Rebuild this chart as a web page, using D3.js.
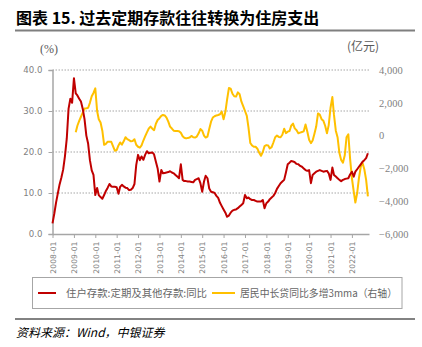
<!DOCTYPE html>
<html><head><meta charset="utf-8">
<script src="https://cdn.jsdelivr.net/npm/d3@7/dist/d3.min.js"></script>
<style>body{margin:0;background:#fff}svg{display:block}</style>
</head><body>
<svg id="c" width="422" height="347"></svg>
<script>
// ---- data ----
const depositStart = "2008-01";
const depositYoY = [
 2.6,5.0,7.6,9.9,12.1,13.8,15.7,19.0,23.3,30.5,
 33.0,32.0,38.0,34.3,33.8,33.0,32.3,30.5,28.0,24.0,
 22.0,18.0,15.5,14.4,9.5,11.2,9.5,9.0,8.6,9.5,
 10.5,11.3,12.2,11.6,11.5,11.5,11.4,9.8,11.5,12.0,
 11.6,11.3,11.2,10.7,10.8,11.2,12.2,16.8,19.3,18.0,
 18.9,18.1,19.3,20.2,19.7,19.8,19.9,19.4,17.6,16.0,
 12.8,15.6,14.8,14.9,15.0,15.1,15.3,15.0,14.8,14.4,
 14.0,13.6,17.0,13.2,12.9,12.9,12.8,12.8,12.7,12.6,
 13.2,13.4,13.6,12.4,10.3,12.8,14.2,13.6,11.1,10.3,
 10.2,10.0,9.3,8.8,7.6,6.8,6.0,5.2,4.2,4.5,
 5.2,5.7,5.9,6.0,6.3,6.7,7.1,7.5,9.5,8.7,
 8.9,8.5,8.3,8.3,8.1,7.9,7.9,7.9,8.3,6.3,
 7.5,7.9,8.5,8.9,9.3,10.0,11.0,11.7,12.4,12.8,
 13.2,15.0,17.0,17.4,17.8,17.7,17.5,17.1,17.0,16.6,
 16.4,16.0,15.6,15.4,15.6,12.4,14.4,14.8,15.2,15.4,
 15.6,15.4,15.2,15.3,15.4,14.8,13.2,16.2,14.4,14.0,
 13.6,13.2,12.9,13.2,13.4,13.5,13.6,14.5,15.2,14.0,
 15.2,15.8,16.4,17.0,17.6,18.0,18.5,19.7
];
const loanStart = "2009-02";
const loanIncrease3mma = [
 200,600,900,1150,1400,1650,1660,1700,2000,2400,
 2600,2880,1500,1000,800,300,-560,-500,-370,-370,
 -380,-650,-920,-880,-600,-420,-550,-350,-100,-220,
 -280,-350,-330,-220,-560,-680,-740,-600,-300,-50,
 200,420,550,420,330,720,950,1060,1200,1260,
 1230,1100,850,550,430,300,280,280,270,170,
 -40,-130,-170,-140,-120,-20,-100,-120,-60,140,
 400,300,0,-120,-60,400,850,1100,1180,1230,
 1260,1300,1460,1000,1450,2200,2900,2860,2550,2400,
 2380,2640,2520,2070,1800,1500,1200,500,-450,-600,
 -680,-680,-800,-1050,-1230,-1000,-640,-580,-600,-780,
 -700,-420,-100,0,-80,-100,50,420,150,240,
 280,600,730,440,330,140,180,220,260,680,
 250,-250,-460,-300,120,550,1350,1280,1000,900,
 600,140,640,1700,2350,1260,300,-100,-1050,-1480,
 -1650,-1200,-100,80,-1400,-2600,-3400,-4080,-3500,-2600,
 -1900,-1650,-2050,-2700,-3700
];
const yearTicks = ["2008-01","2009-01","2010-01","2011-01","2012-01","2013-01","2014-01","2015-01","2016-01","2017-01","2018-01","2019-01","2020-01","2021-01","2022-01"];
const leftTicks = [0,10,20,30,40];
const rightTicks = [-6000,-4000,-2000,0,2000,4000];
const seriesNames = ["住户存款:定期及其他存款:同比","居民中长贷同比多增3mma（右轴）"];
const colors = ["#C00000","#FFC000"];

// ---- chart ----
const svg = d3.select("#c");
const parse = d3.timeParse("%Y-%m");
const monthsFrom = (start, n) => d3.range(n).map(i => d3.timeMonth.offset(parse(start), i));
const redPts = monthsFrom(depositStart, depositYoY.length).map((d,i)=>({d, v:depositYoY[i]}));
const yelPts = monthsFrom(loanStart, loanIncrease3mma.length).map((d,i)=>({d, v:loanIncrease3mma[i]}));

const X0 = 52.5, X1 = 369, Y0 = 234, Y1 = 70;
const x = d3.scaleTime().domain([parse("2008-01"), new Date(2022, 9, 20)]).range([X0, X1]);
const yL = d3.scaleLinear().domain([0, 40]).range([Y0, Y1]);
const yR = d3.scaleLinear().domain([-6000, 4000]).range([Y0, Y1]);

// title
svg.append("text").attr("x", 16).attr("y", 24)
  .attr("font-family", "'Noto Sans CJK SC', sans-serif").attr("font-weight", "bold")
  .attr("font-size", 16).attr("fill", "#000").text("图表 15. 过去定期存款往往转换为住房支出");
svg.append("line").attr("x1", 15).attr("x2", 415).attr("y1", 30.5).attr("y2", 30.5)
  .attr("stroke", "#7f7f7f").attr("stroke-width", 2);

// units
svg.append("text").attr("x", 40).attr("y", 53).attr("font-family", "'Liberation Serif', serif")
  .attr("font-size", 12).attr("fill", "#595959").text("(%)");
svg.append("text").attr("x", 347).attr("y", 51).attr("font-family", "'Noto Sans CJK SC', sans-serif")
  .attr("font-size", 12).attr("fill", "#595959").text("(亿元)");

// grid
svg.append("g").selectAll("line").data(leftTicks.filter(d => d > 0)).join("line")
  .attr("x1", X0).attr("x2", X1).attr("y1", d => yL(d)).attr("y2", d => yL(d))
  .attr("stroke", "#a6a6a6").attr("stroke-width", 1).attr("stroke-dasharray", "1.5,1.5");

// left axis
const gL = svg.append("g").attr("transform", `translate(${X0},0)`)
  .call(d3.axisLeft(yL).tickValues(leftTicks).tickFormat(d3.format(".1f")).tickSize(4).tickPadding(6));
gL.select(".domain").attr("stroke", "#a6a6a6").attr("stroke-width", 1.5);
gL.selectAll(".tick line").attr("stroke", "#a6a6a6");
gL.selectAll("text").attr("font-family", "'DejaVu Sans', sans-serif").attr("font-size", 8.6).attr("fill", "#7f7f7f");

// right axis
const gR = svg.append("g").attr("transform", `translate(${X1},0)`)
  .call(d3.axisRight(yR).tickValues(rightTicks).tickFormat(d3.format(",")).tickSize(0).tickPadding(10));
gR.select(".domain").remove();
gR.selectAll("text").attr("font-family", "'Liberation Serif', serif").attr("font-size", 10.5).attr("fill", "#7f7f7f");

// bottom axis
const gB = svg.append("g").attr("transform", `translate(0,${Y0})`)
  .call(d3.axisBottom(x).tickValues(yearTicks.map(parse)).tickFormat(d3.timeFormat("%Y-%m")).tickSize(4).tickSizeOuter(0));
gB.select(".domain").attr("stroke", "#a6a6a6").attr("stroke-width", 1.5);
gB.selectAll(".tick line").attr("stroke", "#a6a6a6");
gB.selectAll("text").attr("font-family", "'DejaVu Sans', sans-serif").attr("font-size", 7.7).attr("fill", "#7f7f7f")
  .attr("transform", "rotate(-90)").attr("text-anchor", "end").attr("x", -7.5).attr("y", 0).attr("dy", "0.35em");

// lines
const lineL = d3.line().x(p => x(p.d)).y(p => yL(p.v));
const lineR = d3.line().x(p => x(p.d)).y(p => yR(p.v));
svg.append("path").datum(yelPts).attr("d", lineR).attr("fill", "none")
  .attr("stroke", colors[1]).attr("stroke-width", 2).attr("stroke-linejoin", "round");
svg.append("path").datum(redPts).attr("d", lineL).attr("fill", "none")
  .attr("stroke", colors[0]).attr("stroke-width", 2).attr("stroke-linejoin", "round");

// legend
svg.append("rect").attr("x", 32.5).attr("y", 277.5).attr("width", 369.5).attr("height", 31)
  .attr("fill", "none").attr("stroke", "#a6a6a6").attr("stroke-width", 1);
const legY = 293;
const legItems = [{x1: 38, x2: 56, tx: 66, w: 141}, {x1: 212, x2: 235, tx: 240, w: 157}];
legItems.forEach((it, i) => {
  svg.append("line").attr("x1", it.x1).attr("x2", it.x2).attr("y1", legY).attr("y2", legY)
    .attr("stroke", colors[i]).attr("stroke-width", 2);
  svg.append("text").attr("x", it.tx).attr("y", legY).attr("dy", "0.35em")
    .attr("font-family", "'Noto Sans CJK SC', sans-serif").attr("font-size", 10.4).attr("fill", "#666")
    .attr("textLength", it.w).attr("lengthAdjust", "spacingAndGlyphs")
    .text(seriesNames[i]);
});

// source
svg.append("line").attr("x1", 15).attr("x2", 415).attr("y1", 319).attr("y2", 319)
  .attr("stroke", "#595959").attr("stroke-width", 1.5);
svg.append("text").attr("x", 16).attr("y", 333).attr("dy", "0.35em")
  .attr("font-family", "'Noto Sans CJK SC', sans-serif").attr("font-style", "italic")
  .attr("font-size", 12).attr("fill", "#000").text("资料来源：Wind，中银证券");
</script>
</body></html>
